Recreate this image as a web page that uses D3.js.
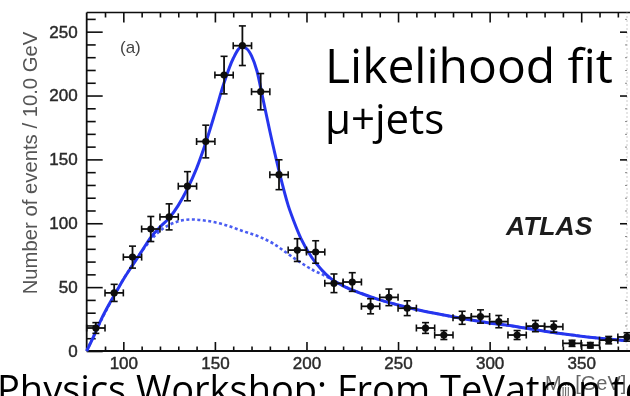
<!DOCTYPE html>
<html>
<head>
<meta charset="utf-8">
<script src="https://cdn.jsdelivr.net/npm/d3@7"></script>
<style>
  html, body { margin: 0; padding: 0; background: #fff; overflow: hidden; }
  svg { display: block; }
</style>
</head>
<body>
<svg id="chart" width="630" height="396"></svg>
<script>
// Three-jet invariant mass, muon+jets channel, 10 GeV bins
const binCentres = [85, 95, 105, 115, 125, 135, 145, 155, 165, 175, 185, 195, 205, 215, 225,
                    235, 245, 255, 265, 275, 285, 295, 305, 315, 325, 335, 345, 355, 365, 375];
const eventCounts = [18, 45.5, 73.5, 95.5, 105, 129, 164, 216, 239, 203, 138, 79, 77.5, 53, 54,
                     35, 42, 33.5, 18, 12.5, 26, 27, 23, 12.5, 19.5, 19, 6, 4.5, 8.5, 11];
const countErrors = [4.2, 6.7, 8.6, 9.8, 10.2, 11.4, 12.8, 14.7, 15.5, 14.2, 11.7, 8.9, 8.8, 7.3, 7.3,
                     5.9, 6.5, 5.8, 4.2, 3.5, 5.1, 5.2, 4.8, 3.5, 4.4, 4.4, 2.4, 2.1, 2.9, 3.3];
const binHalfWidth = 5;

// Signal + background likelihood fit
const fitMass   = [80, 84, 88, 92, 96, 100, 105, 110, 115, 120, 125, 130, 135, 140, 145, 150, 155, 160,
                   164.5, 167, 170, 173, 176, 180, 185, 190, 193, 197, 203, 208, 213, 220, 230, 240,
                   250, 260, 270, 285, 300, 315, 330, 345, 360, 375];
const fitEvents = [0, 12, 25, 36, 46, 56, 67, 78, 89, 97, 104, 114, 127, 143, 163, 186, 210, 229,
                   238, 237, 231, 219, 199, 172, 141, 114, 102, 88, 73, 64, 57, 51, 45, 40,
                   36, 32.5, 29.5, 25.5, 22, 19, 15.5, 12.5, 10, 8];

// Background component of the fit
const bkgMass   = [80, 90, 100, 110, 120, 130, 137, 145, 155, 165, 175, 182, 188, 196, 204, 210, 215,
                   220, 230, 240, 250, 260, 270, 285, 300, 315, 330, 345, 360, 375];
const bkgEvents = [0, 30, 56, 78, 94, 101.5, 103, 102, 99, 94, 89, 84, 78, 70, 63, 59, 55,
                   51, 45, 40, 36, 32.5, 29.5, 25.5, 22, 19, 15.5, 12.5, 10, 8];

const xTickValues = [100, 150, 200, 250, 300, 350];
const xMinorTicks = [90, 110, 120, 130, 140, 160, 170, 180, 190, 210, 220, 230, 240, 260, 270, 280,
                     290, 310, 320, 330, 340, 360, 370];
const yTickValues = [0, 50, 100, 150, 200, 250];
const yMinorTicks = [10, 20, 30, 40, 60, 70, 80, 90, 110, 120, 130, 140, 160, 170, 180, 190,
                     210, 220, 230, 240, 260];

const svg = d3.select("#chart");
const margin = { left: 86.7, top: 12.5, bottom: 45, right: 3 };
const W = 630, H = 396;

const x = d3.scaleLinear().domain([80, 375]).range([margin.left, W - margin.right]);
const y = d3.scaleLinear().domain([0, 265]).range([H - margin.bottom, margin.top]);

// soft focus of the plot body
const defs = svg.append("defs");
defs.append("filter").attr("id", "soft")
  .attr("x", "-5%").attr("y", "-5%").attr("width", "110%").attr("height", "110%")
  .append("feGaussianBlur").attr("stdDeviation", 0.55);

const plot = svg.append("g").attr("filter", "url(#soft)");
const x0 = x.range()[0], x1 = x.range()[1];
const y0 = y.range()[0], y1 = y.range()[1];

// ---- frame ----
plot.append("line").attr("x1", x0).attr("x2", x0).attr("y1", y1).attr("y2", y0)
  .attr("stroke", "#111").attr("stroke-width", 1.8);
plot.append("line").attr("x1", x0).attr("x2", W).attr("y1", y0).attr("y2", y0)
  .attr("stroke", "#111").attr("stroke-width", 1.8);
plot.append("line").attr("x1", x0).attr("x2", W).attr("y1", y1).attr("y2", y1)
  .attr("stroke", "#111").attr("stroke-width", 1.6);
plot.append("line").attr("x1", x1).attr("x2", x1).attr("y1", y1).attr("y2", y0)
  .attr("stroke", "#999").attr("stroke-width", 1).attr("stroke-dasharray", "1,3");

const tickFont = "'Liberation Sans', Arial, Helvetica, sans-serif";

function styleAxis(g) {
  g.select(".domain").remove();
  g.selectAll(".tick line").attr("stroke", "#111").attr("stroke-width", 1.6);
  g.selectAll(".tick text")
    .attr("font-family", tickFont).attr("font-size", 17)
    .attr("fill", "#2a2a2a").attr("stroke", "#2a2a2a").attr("stroke-width", 0.45);
}

// bottom axis
plot.append("g").attr("transform", `translate(0,${y0})`)
  .call(d3.axisBottom(x).tickValues(xMinorTicks).tickSize(-4.5).tickFormat(""))
  .call(styleAxis);
plot.append("g").attr("transform", `translate(0,${y0})`)
  .call(d3.axisBottom(x).tickValues(xTickValues).tickSize(-9).tickPadding(6).tickFormat(d3.format("d")))
  .call(styleAxis);

// top axis (ticks only)
plot.append("g").attr("transform", `translate(0,${y1})`)
  .call(d3.axisTop(x).tickValues(xMinorTicks).tickSize(-5).tickFormat(""))
  .call(styleAxis);
plot.append("g").attr("transform", `translate(0,${y1})`)
  .call(d3.axisTop(x).tickValues(xTickValues).tickSize(-10).tickFormat(""))
  .call(styleAxis);

// left axis
plot.append("g").attr("transform", `translate(${x0},0)`)
  .call(d3.axisLeft(y).tickValues(yMinorTicks).tickSize(-9).tickFormat(""))
  .call(styleAxis);
plot.append("g").attr("transform", `translate(${x0},0)`)
  .call(d3.axisLeft(y).tickValues(yTickValues).tickSize(-16).tickPadding(9).tickFormat(d3.format("d")))
  .call(styleAxis);

// right axis (ticks only)
plot.append("g").attr("transform", `translate(${x1},0)`)
  .call(d3.axisRight(y).tickValues(yMinorTicks).tickSize(-2).tickFormat(""))
  .call(styleAxis)
  .selectAll(".tick line").attr("stroke", "#888").attr("stroke-width", 1);
plot.append("g").attr("transform", `translate(${x1},0)`)
  .call(d3.axisRight(y).tickValues(yTickValues.filter(v => v > 0)).tickSize(-7).tickFormat(""))
  .call(styleAxis);

// axis titles
plot.append("text")
  .attr("transform", "translate(37,163) rotate(-90)")
  .attr("text-anchor", "middle")
  .attr("font-family", tickFont).attr("font-size", 20.3)
  .attr("fill", "#555")
  .text("Number of events / 10.0 GeV");

const xTitle = plot.append("text")
  .attr("x", 545).attr("y", 390)
  .attr("font-family", tickFont).attr("font-size", 20)
  .attr("fill", "#666");
xTitle.append("tspan").text("M");
xTitle.append("tspan").attr("font-size", 12).attr("dy", 4).text("jjj");
xTitle.append("tspan").attr("dy", -4).text(" [GeV]");

// ---- fit curves ----
const line = d3.line()
  .x(d => x(d[0])).y(d => y(d[1]))
  .curve(d3.curveMonotoneX);

plot.append("path")
  .datum(bkgMass.map((m, i) => [m, bkgEvents[i]]))
  .attr("d", line)
  .attr("fill", "none").attr("stroke", "#4a5cf2")
  .attr("stroke-width", 2.6).attr("stroke-dasharray", "3,2.5");

plot.append("path")
  .datum(fitMass.map((m, i) => [m, fitEvents[i]]))
  .attr("d", line)
  .attr("fill", "none").attr("stroke", "#2636ee")
  .attr("stroke-width", 3);

// ---- data points with error bars ----
const pts = plot.append("g").selectAll("g")
  .data(binCentres.map((m, i) => ({ m, n: eventCounts[i], e: countErrors[i] })))
  .join("g");

const ink = "#111";
const cap = 3.5;
pts.append("line")
  .attr("x1", d => x(d.m)).attr("x2", d => x(d.m))
  .attr("y1", d => y(d.n - d.e)).attr("y2", d => y(d.n + d.e))
  .attr("stroke", ink).attr("stroke-width", 1.8);
pts.append("line")
  .attr("x1", d => x(d.m - binHalfWidth)).attr("x2", d => x(d.m + binHalfWidth))
  .attr("y1", d => y(d.n)).attr("y2", d => y(d.n))
  .attr("stroke", ink).attr("stroke-width", 1.8);
// caps on vertical bars
[d => d.n - d.e, d => d.n + d.e].forEach(f => {
  pts.append("line")
    .attr("x1", d => x(d.m) - cap).attr("x2", d => x(d.m) + cap)
    .attr("y1", d => y(f(d))).attr("y2", d => y(f(d)))
    .attr("stroke", ink).attr("stroke-width", 1.6);
});
// caps on horizontal bars
[d => d.m - binHalfWidth, d => d.m + binHalfWidth].forEach(f => {
  pts.append("line")
    .attr("x1", d => x(f(d))).attr("x2", d => x(f(d)))
    .attr("y1", d => y(d.n) - cap).attr("y2", d => y(d.n) + cap)
    .attr("stroke", ink).attr("stroke-width", 1.6);
});
pts.append("circle")
  .attr("cx", d => x(d.m)).attr("cy", d => y(d.n)).attr("r", 3.6)
  .attr("fill", ink);

// ---- panel annotations ----
plot.append("text")
  .attr("x", 120).attr("y", 53)
  .attr("font-family", tickFont).attr("font-size", 17)
  .attr("fill", "#444").text("(a)");

plot.append("text")
  .attr("x", 506).attr("y", 235)
  .attr("font-family", tickFont).attr("font-size", 26.5)
  .attr("font-weight", "bold").attr("font-style", "italic")
  .attr("fill", "#1c1c1c").text("ATLAS");

// ---- slide overlay text ----
const slideFont = "'Open Sans', 'Noto Sans', sans-serif";
svg.append("text")
  .attr("x", 325).attr("y", 83)
  .attr("font-family", slideFont).attr("font-size", 48)
  .attr("fill", "#000").text("Likelihood fit");
svg.append("text")
  .attr("x", 325).attr("y", 134)
  .attr("font-family", slideFont).attr("font-size", 42)
  .attr("fill", "#000").text("μ+jets");
svg.append("text")
  .attr("x", -3).attr("y", 403)
  .attr("font-family", slideFont).attr("font-size", 38)
  .attr("fill", "#000").text("Physics Workshop: From TeVatron to");
</script>
</body>
</html>
